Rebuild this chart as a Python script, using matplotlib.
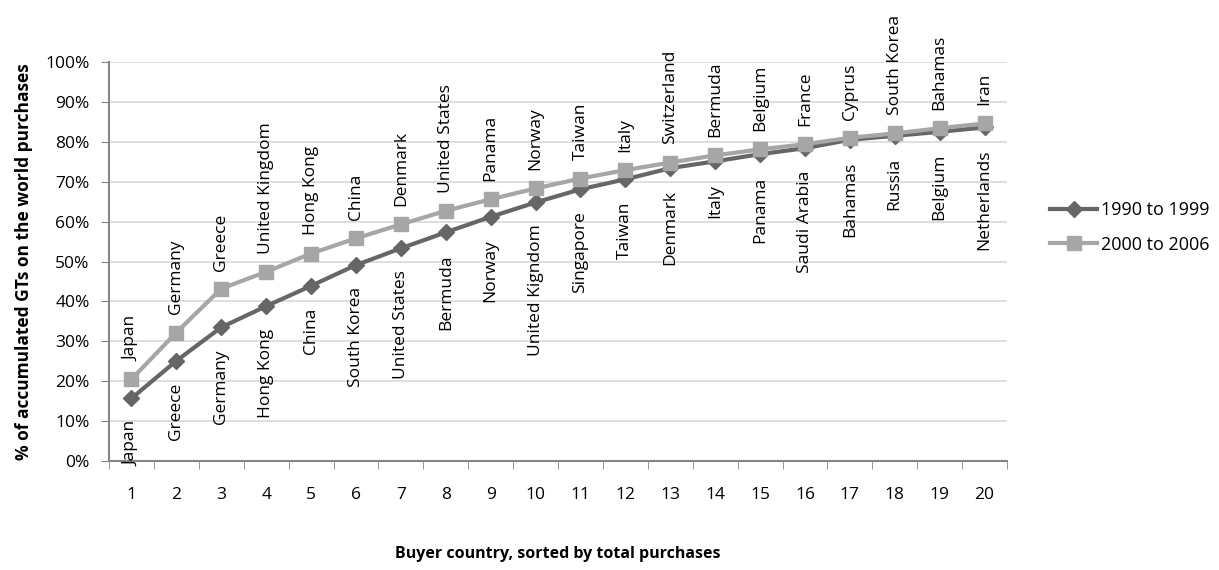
import matplotlib
matplotlib.use("Agg")
import matplotlib.pyplot as plt
from matplotlib.ticker import FixedLocator, PercentFormatter

plt.rcParams['font.family'] = ['Open Sans', 'DejaVu Sans']

ranks = list(range(1, 21))
series_1990 = [15.7, 25.1, 33.5, 38.8, 43.9, 49.1, 53.3, 57.3, 61.2, 64.8,
               68.1, 70.6, 73.4, 75.1, 76.9, 78.4, 80.5, 81.5, 82.5, 83.6]
series_2000 = [20.5, 32.2, 43.2, 47.4, 52.0, 55.8, 59.3, 62.7, 65.6, 68.3,
               70.8, 72.9, 74.8, 76.6, 78.1, 79.4, 81.0, 82.1, 83.4, 84.6]
countries_1990 = ["Japan", "Greece", "Germany", "Hong Kong", "China", "South Korea",
                  "United States", "Bermuda", "Norway", "United Kigndom", "Singapore",
                  "Taiwan", "Denmark", "Italy", "Panama", "Saudi Arabia", "Bahamas",
                  "Russia", "Belgium", "Netherlands"]
countries_2000 = ["Japan", "Germany", "Greece", "United Kingdom", "Hong Kong", "China",
                  "Denmark", "United States", "Panama", "Norway", "Taiwan", "Italy",
                  "Switzerland", "Bermuda", "Belgium", "France", "Cyprus", "South Korea",
                  "Bahamas", "Iran"]
legend_labels = ["1990 to 1999", "2000 to 2006"]
ytick_values = list(range(0, 101, 10))

dark = "#666666"
light = "#A6A6A6"

fig = plt.figure(figsize=(12.19, 5.70), dpi=100)
ax = fig.add_axes([109/1219, 109/570, 898/1219, 399/570])

ax.plot(ranks, series_1990, color=dark, lw=3, marker="D", ms=8, mfc=dark, mec=dark,
        label=legend_labels[0], zorder=3)
ax.plot(ranks, series_2000, color=light, lw=3, marker="s", ms=10, mfc=light, mec=light,
        label=legend_labels[1], zorder=4)

for x, y, name in zip(ranks, series_2000, countries_2000):
    ax.annotate(name, (x, y), xytext=(0, 13), textcoords="offset points",
                rotation=90, ha="center", va="bottom", fontsize=12.5, color="black",
                annotation_clip=False)
for x, y, name in zip(ranks, series_1990, countries_1990):
    ax.annotate(name, (x, y), xytext=(0, -16), textcoords="offset points",
                rotation=90, ha="center", va="top", fontsize=12.5, color="black",
                annotation_clip=False, zorder=5)

ax.set_xlim(0.5, 20.5)
ax.set_ylim(0, 100)
ax.set_yticks(ytick_values)
ax.yaxis.set_major_formatter(PercentFormatter(decimals=0))
ax.set_xticks(ranks)
ax.set_xticklabels([str(r) for r in ranks])
ax.xaxis.set_minor_locator(FixedLocator([r + 0.5 for r in [0] + ranks]))
ax.tick_params(axis="x", which="major", length=0, pad=19, labelsize=12.5)
ax.tick_params(axis="x", which="minor", length=6, color="#868686", direction="out")
ax.tick_params(axis="y", length=6, color="#868686", labelsize=12.5, pad=8)

ax.grid(axis="y", color="#D9D9D9", lw=1.2)
ax.set_axisbelow(True)
for s in ["top", "right"]:
    ax.spines[s].set_visible(False)
for s in ["left", "bottom"]:
    ax.spines[s].set_color("#868686")
    ax.spines[s].set_linewidth(1.5)

ax.set_ylabel("% of accumulated GTs on the world purchases", fontsize=12.5,
              fontweight="bold", labelpad=9)
ax.set_xlabel("Buyer country, sorted by total purchases", fontsize=11.5,
              fontweight="bold", labelpad=31)

ax.legend(loc="center left", bbox_to_anchor=(1.03, 0.585), frameon=False,
          fontsize=13, handlelength=2.6, handletextpad=0.2, labelspacing=0.9)

fig.savefig("out.png", dpi=100)
